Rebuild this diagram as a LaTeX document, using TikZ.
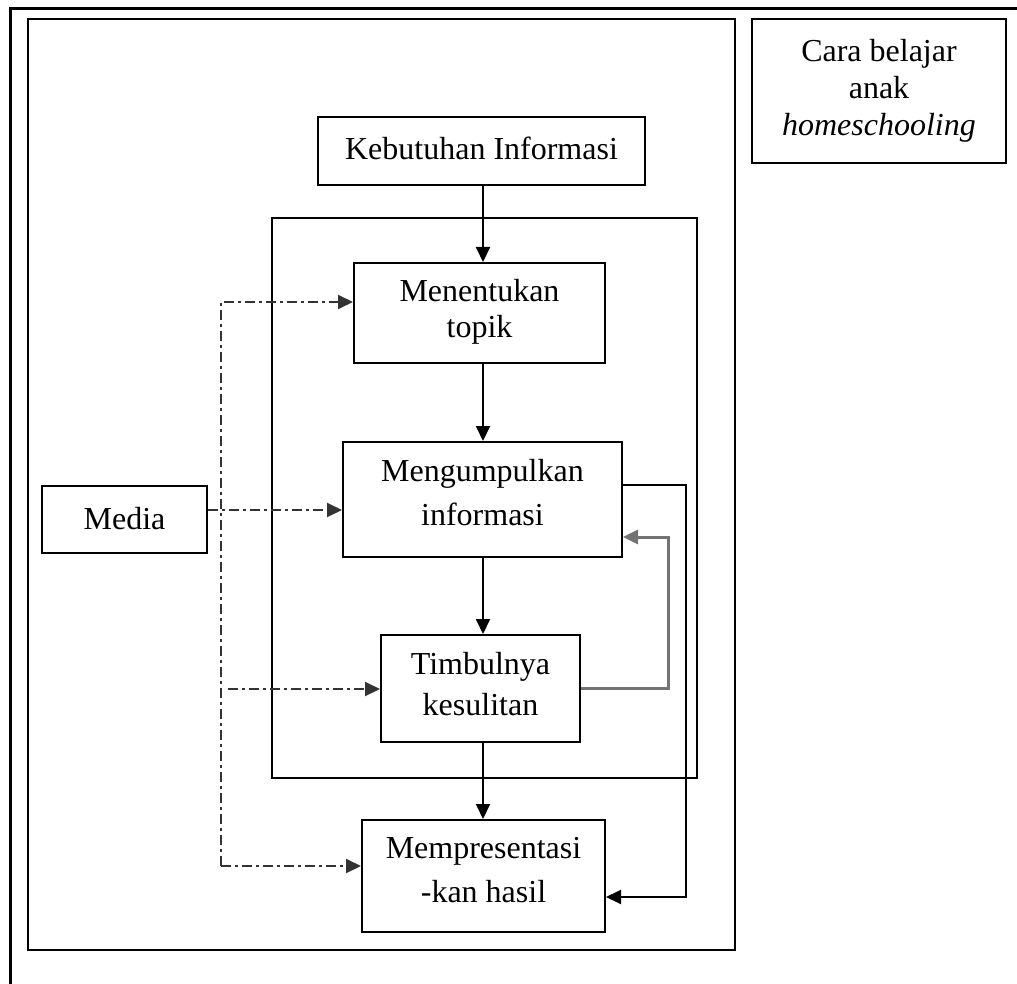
\documentclass[tikz,border=0pt]{standalone}
\usepackage{fontspec}
\setmainfont{Liberation Serif}
\usetikzlibrary{arrows.meta,positioning,calc}
\tikzset{
  box/.style={draw, line width=2pt, inner sep=0pt},
  txt/.style={align=center, inner sep=0pt},
  arr/.style={-{Triangle[length=15pt,width=14pt]}},
  conn/.style={line width=2pt, arr},
  dd/.style={line width=2pt, black!80, dash pattern=on 10pt off 4pt on 3pt off 4pt, arr},
  fbline/.style={line width=3pt, black!55, arr},
}
\begin{document}
\begin{tikzpicture}[x=1pt,y=1pt]
\useasboundingbox (0,0) rectangle (1017,-984);
% outer frame
\draw[line width=3pt] (10,-990) -- (10,-9) -- (1020,-9);
% left frame
\draw[line width=2.5pt] (28,-19) rectangle (735,-950);
% inner frame
\draw[line width=2pt] (272,-218) rectangle (697,-778);
% boxes
\node[box, minimum width=254pt, minimum height=144pt] (cara) at (879,-91) {};
\node[box, minimum width=327pt, minimum height=68pt] (kebutuhan) at (481.5,-151) {};
\node[box, minimum width=251pt, minimum height=100pt] (menentukan) at (479.5,-313) {};
\node[box, minimum width=279pt, minimum height=115pt] (mengumpulkan) at (482.5,-499.5) {};
\node[box, minimum width=199pt, minimum height=107pt] (timbulnya) at (480.5,-688.5) {};
\node[box, minimum width=243pt, minimum height=112pt] (mempresentasi) at (483.5,-876) {};
\node[box, minimum width=165pt, minimum height=67pt] (media) at (124.5,-519.5) {};
% texts
\node[txt, font=\fontsize{32}{37}\selectfont] (caraT) at ([yshift=0pt]cara.center) {Cara belajar\\anak\\\textit{homeschooling}};
\node[txt, font=\fontsize{32}{38}\selectfont] (kebT) at ([yshift=3pt]kebutuhan.center) {Kebutuhan Informasi};
\node[txt, font=\fontsize{32}{36}\selectfont] (menT) at ([yshift=1pt]menentukan.center) {Menentukan\\topik};
\node[txt, font=\fontsize{32}{44}\selectfont] (mengT) at ([yshift=7pt]mengumpulkan.center) {Mengumpulkan\\informasi};
\node[txt, font=\fontsize{32}{41}\selectfont] (timT) at ([yshift=4pt]timbulnya.center) {Timbulnya\\kesulitan};
\node[txt, font=\fontsize{32}{44}\selectfont] (memT) at ([yshift=6pt]mempresentasi.center) {Mempresentasi\\-kan hasil};
\node[txt, font=\fontsize{32}{38}\selectfont] (medT) at ([yshift=1pt]media.center) {Media};
% main vertical flow
\coordinate (cx) at (483,0);
\draw[conn] (kebutuhan.south -| cx) -- (menentukan.north -| cx);
\draw[conn] (menentukan.south -| cx) -- (mengumpulkan.north -| cx);
\draw[conn] (mengumpulkan.south -| cx) -- (timbulnya.north -| cx);
\draw[conn] (timbulnya.south -| cx) -- (mempresentasi.north -| cx);
% dash-dot media lines
\coordinate (a1) at (221,-302);
\coordinate (a3) at (228,-689);
\coordinate (a4) at (221,-866);
\draw[dd] (a4) -- (a1) -- (a1 -| menentukan.west);
\draw[dd] ([yshift=9.5pt]media.east) -- ([yshift=9.5pt]media.east -| mengumpulkan.west);
\draw[dd] (a3) -- (a3 -| timbulnya.west);
\draw[dd] (a4) -- (a4 -| mempresentasi.west);
% feedback loop
\coordinate (fb) at (668,-537);
\draw[fbline] (timbulnya.east) -| (fb) -- (fb -| mengumpulkan.east);
% right path to presentation
\coordinate (rp) at (686,-485);
\draw[conn] (rp -| mengumpulkan.east) -- (rp) |- ([yshift=-21pt]mempresentasi.east);
\end{tikzpicture}
\end{document}
